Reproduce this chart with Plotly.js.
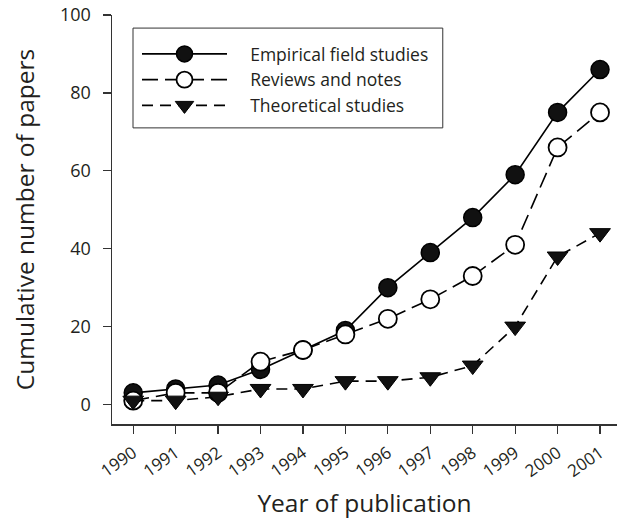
<!DOCTYPE html>
<html>
<head>
<meta charset="utf-8">
<script src="https://cdn.plot.ly/plotly-3.0.1.min.js"></script>
<style>html,body{margin:0;padding:0;background:#fff}#chart{width:617px;height:519px}</style>
</head>
<body>
<div id="chart"></div>
<script>
const years = [1990,1991,1992,1993,1994,1995,1996,1997,1998,1999,2000,2001];
const yearLabels = ["1990","1991","1992","1993","1994","1995","1996","1997","1998","1999","2000","2001"];
const empirical = [3,4,5,9,14,19,30,39,48,59,75,86];
const reviews = [1,3,3,11,14,18,22,27,33,41,66,75];
const theoretical = [1,1,2,4,4,6,6,7,10,20,38,44];
const seriesNames = ["Empirical field studies","Reviews and notes","Theoretical studies"];

const FONT = "'Open Sans', 'Noto Sans', sans-serif";
const PAD = '\u00a0\u00a0\u00a0\u00a0';
const traces = [
  {x: years, y: empirical, name: PAD + seriesNames[0], mode: 'lines+markers',
   line: {color: '#000', width: 1.6, dash: 'solid'},
   marker: {symbol: 'circle', size: 18, color: '#111', line: {color: '#000', width: 1.5}}},
  {x: years, y: reviews, name: PAD + seriesNames[1], mode: 'lines+markers',
   line: {color: '#000', width: 1.6, dash: '16px,7px'},
   marker: {symbol: 'circle', size: 18, color: '#fff', line: {color: '#000', width: 1.8}}},
  {x: years, y: theoretical, name: PAD + seriesNames[2], mode: 'lines+markers',
   line: {color: '#000', width: 1.6, dash: '11px,7px'},
   marker: {symbol: 'triangle-down', size: 18, color: '#111', line: {color: '#000', width: 1}}}
];

const layout = {
  width: 617, height: 519,
  margin: {l: 112, r: 0, t: 15, b: 95},
  paper_bgcolor: '#fff', plot_bgcolor: '#fff',
  font: {family: FONT, color: '#231f20'},
  showlegend: true,
  legend: {x: 0.0495, y: 0.9486, xanchor: 'left', yanchor: 'top',
    borderwidth: 0, bgcolor: 'rgba(0,0,0,0)',
    font: {size: 17.5, family: FONT, color: '#231f20'},
    itemwidth: 85, tracegroupgap: 0},
  shapes: [{type: 'rect', xref: 'paper', yref: 'paper', x0: 0.0416, x1: 0.655, y0: 0.724, y1: 0.968,
    line: {color: '#333', width: 1}, fillcolor: 'rgba(0,0,0,0)', layer: 'above'}],
  xaxis: {
    range: [1989.5, 2001.4],
    tickmode: 'array', tickvals: years, ticktext: yearLabels,
    tickangle: -35, ticks: 'outside', ticklen: 8, tickwidth: 1.2, tickcolor: '#333',
    ticklabelstandoff: 3,
    showline: true, linecolor: '#333', linewidth: 1.5,
    showgrid: false, zeroline: false,
    tickfont: {size: 17, family: FONT, color: '#231f20'},
    title: {text: 'Year of publication', font: {size: 24.5, family: FONT, color: '#231f20'}, standoff: 20}
  },
  yaxis: {
    range: [-5, 100],
    tickmode: 'array', tickvals: [0,20,40,60,80,100],
    ticks: 'outside', ticklen: 8, tickwidth: 1.2, tickcolor: '#333',
    ticklabelstandoff: 8,
    showline: true, linecolor: '#333', linewidth: 1.5,
    showgrid: false, zeroline: false,
    tickfont: {size: 18, family: FONT, color: '#231f20'},
    title: {text: 'Cumulative number of papers', font: {size: 24.5, family: FONT, color: '#231f20'}, standoff: 18}
  }
};
Plotly.newPlot('chart', traces, layout, {displayModeBar: false, staticPlot: true});
</script>
</body>
</html>
